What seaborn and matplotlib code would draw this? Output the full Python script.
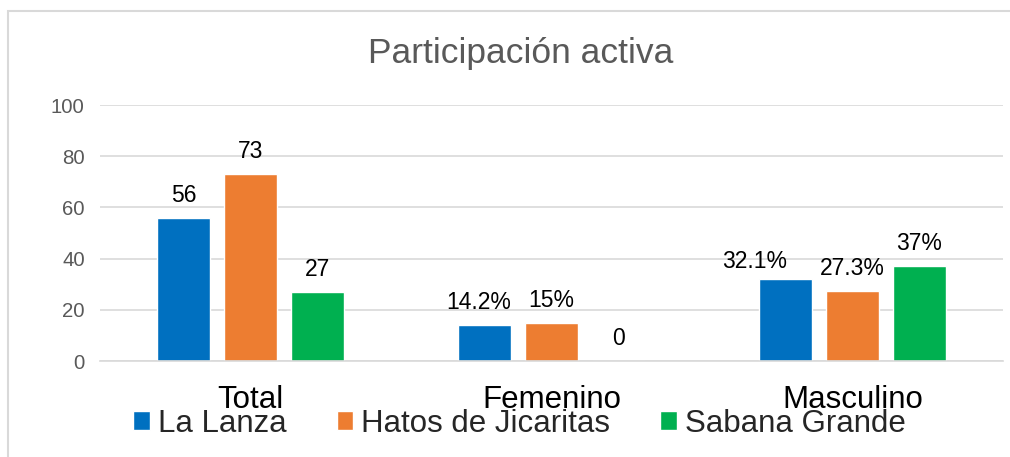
import matplotlib.pyplot as plt
import matplotlib.patches as patches
import pandas as pd
import seaborn as sns

# Data
categories = ['Total', 'Femenino', 'Masculino']
series_names = ['La Lanza', 'Hatos de Jicaritas', 'Sabana Grande']
la_lanza = [56, 14.2, 32.1]
hatos = [73, 15, 27.3]
sabana = [27, 0, 37]
la_lanza_labels = ['56', '14.2%', '32.1%']
hatos_labels = ['73', '15%', '27.3%']
sabana_labels = ['27', '0', '37%']
y_ticks = [0, 20, 40, 60, 80, 100]

colors = ['#0070C0', '#ED7D31', '#00B050']
grey_txt = '#595959'

df = pd.DataFrame({
    'cat': categories * 3,
    'serie': [s for s in series_names for _ in categories],
    'val': la_lanza + hatos + sabana,
})

sns.set_style('white')
plt.rcParams['font.family'] = ['Liberation Sans', 'DejaVu Sans']

fig = plt.figure(figsize=(10.1, 4.57), dpi=100)
ax = fig.add_axes([0.099, 0.21, 0.894, 0.56])

sns.barplot(data=df, x='cat', y='val', hue='serie', order=categories,
            hue_order=series_names, palette=colors, width=0.667, gap=0.21,
            saturation=1, ax=ax, legend=True)

# data labels
all_labels = []
for cont, labs in zip(ax.containers, [la_lanza_labels, hatos_labels, sabana_labels]):
    all_labels.append(ax.bar_label(cont, labels=labs, padding=8, fontsize=16.5, color='black'))

# Excel nudged a couple of La Lanza labels sideways to avoid overlaps
nudges = {1: (-4, 0), 2: (-22, -4)}
for i, (dx, dy) in nudges.items():
    t = all_labels[0][i]
    x0, y0 = t.xyann
    t.xyann = (x0 + dx, y0 + dy)

ax.set_ylim(0, 100)
ax.set_yticks(y_ticks)
ax.yaxis.grid(True, color='#D9D9D9', lw=1.2)
ax.set_axisbelow(True)
for s in ['top', 'right', 'left']:
    ax.spines[s].set_visible(False)
ax.spines['bottom'].set_color('#D9D9D9')
ax.spines['bottom'].set_linewidth(1.2)
ax.tick_params(axis='y', length=0, labelsize=14.7, labelcolor=grey_txt, pad=11)
ax.tick_params(axis='x', length=0, labelsize=22.5, labelcolor='black', pad=17)
ax.set_xlabel('')
ax.set_ylabel('')

# legend overlapping the category labels, as in the original
handles, labels = ax.get_legend_handles_labels()
ax.legend(handles, labels, loc='center', bbox_to_anchor=(0.4646, -0.245), ncol=3,
          frameon=False, fontsize=22.5, handlelength=0.54, handleheight=0.54,
          handletextpad=0.25, columnspacing=1.6, borderaxespad=0, borderpad=0)

fig.text(0.516, 1 - 63 / 457, 'Participación activa', ha='center', va='baseline',
         fontsize=25.5, color=grey_txt)

# outer chart border
fig.add_artist(patches.Rectangle((8 / 1010, -0.1), 1.2, 1.076, transform=fig.transFigure,
                                 fill=False, edgecolor='#D9D9D9', lw=1.5))

fig.savefig('out.png', dpi=100)
